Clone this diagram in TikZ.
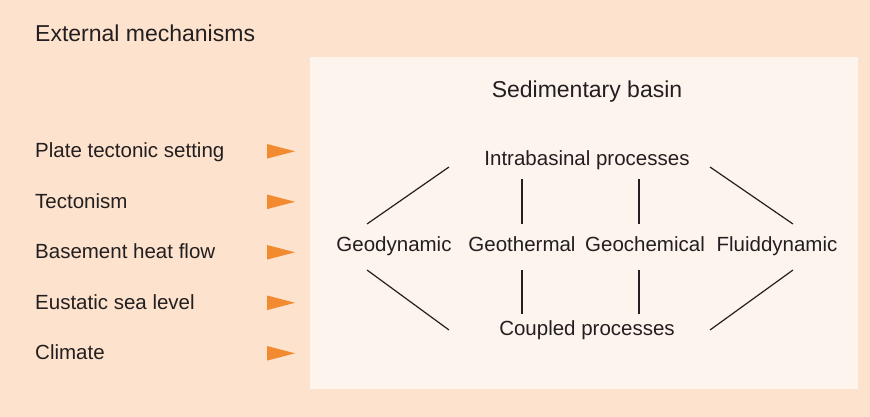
\documentclass[tikz,border=0pt]{standalone}
\usepackage{fontspec}
\setmainfont{Liberation Sans}
\usetikzlibrary{positioning}

\definecolor{outerpeach}{HTML}{FDE2CD}
\definecolor{innerpeach}{HTML}{FEF4EE}
\definecolor{pointerorange}{HTML}{F28A30}
\definecolor{inkgray}{HTML}{231F20}

\begin{document}
\begin{tikzpicture}[
    x=1pt, y=-1pt,
    every node/.style={text=inkgray, inner sep=0pt},
    heading/.style={font=\fontsize{23}{27}\selectfont},
    mech/.style={font=\fontsize{20.5}{24}\selectfont, anchor=base west},
    proc/.style={font=\fontsize{20.5}{24}\selectfont, anchor=base},
    link/.style={draw=inkgray, line width=1.2pt},
    pointer/.style={fill=pointerorange}
]
% panels
\fill[outerpeach] (0,0) rectangle (870,417);
\fill[innerpeach] (310,57) rectangle (858,389);
\useasboundingbox (0,0) rectangle (870,417);

% external mechanisms
\node[heading, anchor=base west] (external) at (35,42) {External mechanisms};
\node[mech] (plate) at (35,157.5) {Plate tectonic setting};
\node[mech] (tecton) at (35,208) {Tectonism};
\node[mech] (heat) at (35,258.5) {Basement heat flow};
\node[mech] (eustatic) at (35,309) {Eustatic sea level};
\node[mech] (climate) at (35,359.5) {Climate};

\fill[pointer] (267,144) -- (295,151.3) -- (267,158.6) -- cycle;
\fill[pointer] (267,194.5) -- (295,201.8) -- (267,209.1) -- cycle;
\fill[pointer] (267,245) -- (295,252.3) -- (267,259.6) -- cycle;
\fill[pointer] (267,295.5) -- (295,302.8) -- (267,310.1) -- cycle;
\fill[pointer] (267,346) -- (295,353.3) -- (267,360.6) -- cycle;

% sedimentary basin
\node[heading, anchor=base] (basin) at (587,98) {Sedimentary basin};
\node[proc] (intra) at (587,165) {Intrabasinal processes};
\node[proc] (geody) at (394,251) {Geodynamic};
\node[proc] (geoth) at (522,251) {Geothermal};
\node[proc] (geoch) at (645,251) {Geochemical};
\node[proc] (fluid) at (777,251) {Fluiddynamic};
\node[proc] (coupled) at (587,335) {Coupled processes};

\draw[link] ([shift={(-138,2)}]intra.base) -- ([shift={(-27,-27)}]geody.base);
\draw[link] ([shift={(0,-72)}]geoth.base) -- ([shift={(0,-27)}]geoth.base);
\draw[link] ([shift={(-6,-72)}]geoch.base) -- ([shift={(-6,-27)}]geoch.base);
\draw[link] ([shift={(123,2)}]intra.base) -- ([shift={(16,-27)}]fluid.base);

\draw[link] ([shift={(-27,19)}]geody.base) -- ([shift={(-138,-5)}]coupled.base);
\draw[link] ([shift={(0,19)}]geoth.base) -- ([shift={(0,63)}]geoth.base);
\draw[link] ([shift={(-6,19)}]geoch.base) -- ([shift={(-6,63)}]geoch.base);
\draw[link] ([shift={(16,19)}]fluid.base) -- ([shift={(123,-5)}]coupled.base);
\end{tikzpicture}
\end{document}
